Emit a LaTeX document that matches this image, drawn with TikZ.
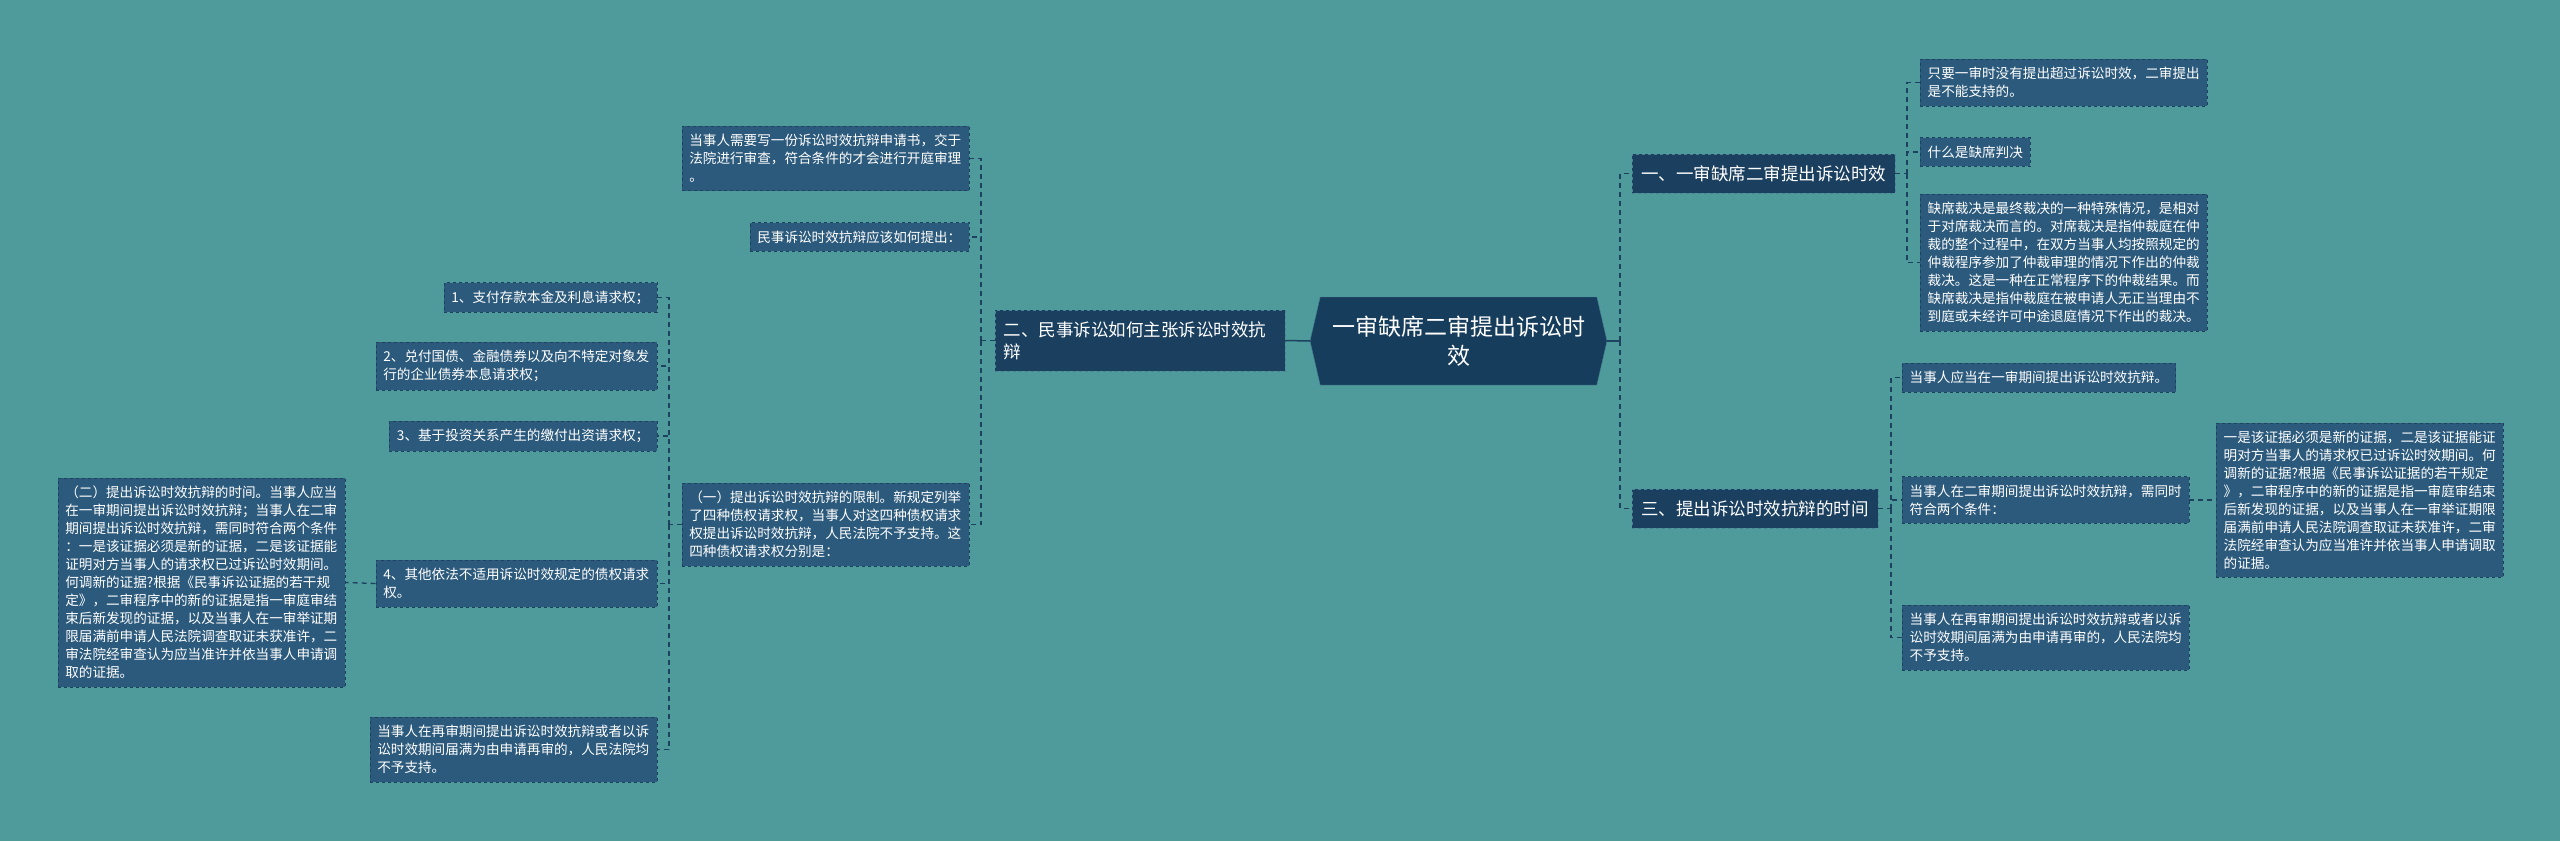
\documentclass[tikz,border=0pt]{standalone}
\usepackage{fontspec}
\setmainfont{Noto Sans CJK SC}
\usetikzlibrary{shapes.symbols}
\definecolor{bgteal}{HTML}{4F9B9B}
\definecolor{rootblue}{HTML}{173D5C}
\definecolor{mainblue}{HTML}{1A3F5F}
\definecolor{leafblue}{HTML}{2C5A7C}
\definecolor{edgeblue}{HTML}{1C4260}
\definecolor{rimblue}{HTML}{4A8296}
\tikzset{
  topic/.style={shape=signal, signal to=east and west, signal pointer angle=154,
    fill=rootblue, draw=rimblue, text=white, align=center,
    font=\fontsize{23pt}{29pt}\selectfont, minimum width=297pt, minimum height=88pt, inner sep=0pt},
  branch/.style={fill=mainblue, draw=rimblue, dashed, text=white, align=left,
    font=\fontsize{17.5pt}{22pt}\selectfont, inner xsep=9pt, inner ysep=11.5pt},
  leaf/.style={fill=leafblue, draw=edgeblue, dashed, text=white, align=left,
    font=\fontsize{13.6pt}{18pt}\selectfont, inner xsep=7.5pt, inner ysep=8pt},
  link/.style={draw=edgeblue, line width=1.3pt, dash pattern=on 5pt off 4pt},
  rootlink/.style={draw=edgeblue, line width=1.5pt},
}
\begin{document}
\begin{tikzpicture}[x=1pt, y=-1pt]
      \fill[bgteal] (0,0) rectangle (2560,841); % page
      \useasboundingbox (0,0) rectangle (2560,841);
      %
      \node[topic] (root) at (1458.5,341) {一审缺席二审提出诉讼时\\效}; % centre
      %
      \node[branch, anchor=west] (timely) at (1632,173.5) {一、一审缺席二审提出诉讼时效}; % right
      \node[branch, anchor=west] (period) at (1632,508.5) {三、提出诉讼时效抗辩的时间};
      \node[branch, anchor=east, text width=272pt] (claim) at (1285,340.5) {二、民事诉讼如何主张诉讼时效抗\\辩}; % left
      %
      \node[leaf, anchor=west] (nosupport) at (1920,82.5) {只要一审时没有提出超过诉讼时效，二审提出\\是不能支持的。}; % under timely
      \node[leaf, anchor=west] (whatis) at (1920,152) {什么是缺席判决};
      \node[leaf, anchor=west] (absent) at (1920,262.5) {缺席裁决是最终裁决的一种特殊情况，是相对\\于对席裁决而言的。对席裁决是指仲裁庭在仲\\裁的整个过程中，在双方当事人均按照规定的\\仲裁程序参加了仲裁审理的情况下作出的仲裁\\裁决。这是一种在正常程序下的仲裁结果。而\\缺席裁决是指仲裁庭在被申请人无正当理由不\\到庭或未经许可中途退庭情况下作出的裁决。};
      %%
      \node[leaf, anchor=west] (first) at (1902,377.5) {当事人应当在一审期间提出诉讼时效抗辩。}; % under period
      \node[leaf, anchor=west] (second) at (1902,500) {当事人在二审期间提出诉讼时效抗辩，需同时\\符合两个条件：};
      \node[leaf, anchor=west] (newproof) at (2216,500) {一是该证据必须是新的证据，二是该证据能证\\明对方当事人的请求权已过诉讼时效期间。何\\调新的证据?根据《民事诉讼证据的若干规定\\》，二审程序中的新的证据是指一审庭审结束\\后新发现的证据，以及当事人在一审举证期限\\届满前申请人民法院调查取证未获准许，二审\\法院经审查认为应当准许并依当事人申请调取\\的证据。};
      \node[leaf, anchor=west] (retrial) at (1902,637.5) {当事人在再审期间提出诉讼时效抗辩或者以诉\\讼时效期间届满为由申请再审的，人民法院均\\不予支持。};
      %%
      \node[leaf, anchor=east] (apply) at (969,158.5) {当事人需要写一份诉讼时效抗辩申请书，交于\\法院进行审查，符合条件的才会进行开庭审理\\。}; % under claim
      \node[leaf, anchor=east] (how) at (969,237) {民事诉讼时效抗辩应该如何提出：};
      \node[leaf, anchor=east] (limit) at (969,524.5) {（一）提出诉讼时效抗辩的限制。新规定列举\\了四种债权请求权，当事人对这四种债权请求\\权提出诉讼时效抗辩，人民法院不予支持。这\\四种债权请求权分别是：};
      %%
      \node[leaf, anchor=east] (deposit) at (657,297.5) {1、支付存款本金及利息请求权；}; % under limit
      \node[leaf, anchor=east] (bonds) at (657,366) {2、兑付国债、金融债券以及向不特定对象发\\行的企业债券本息请求权；};
      \node[leaf, anchor=east] (invest) at (657,436) {3、基于投资关系产生的缴付出资请求权；};
      \node[leaf, anchor=east] (others) at (657,583.5) {4、其他依法不适用诉讼时效规定的债权请求\\权。};
      \node[leaf, anchor=east] (rehear) at (657,749.5) {当事人在再审期间提出诉讼时效抗辩或者以诉\\讼时效期间届满为由申请再审的，人民法院均\\不予支持。};
      \node[leaf, anchor=east] (timing) at (345,582.5) {（二）提出诉讼时效抗辩的时间。当事人应当\\在一审期间提出诉讼时效抗辩；当事人在二审\\期间提出诉讼时效抗辩，需同时符合两个条件\\：一是该证据必须是新的证据，二是该证据能\\证明对方当事人的请求权已过诉讼时效期间。\\何调新的证据?根据《民事诉讼证据的若干规\\定》，二审程序中的新的证据是指一审庭审结\\束后新发现的证据，以及当事人在一审举证期\\限届满前申请人民法院调查取证未获准许，二\\审法院经审查认为应当准许并依当事人申请调\\取的证据。};
      %
      \coordinate (rtrunk) at (1620,341);     % trunks
      \coordinate (atrunk) at (1907,173.5);
      \coordinate (ptrunk) at (1891,508.5);
      \coordinate (ltrunk) at (981,340.5);
      \coordinate (ktrunk) at (669,524.5);
      %
      \draw[rootlink] (root.west) -- (claim.east);
      \draw[rootlink] (root.east) -- (rtrunk);
      \draw[link] (rtrunk) |- (timely.west);
      \draw[link] (rtrunk) |- (period.west);
      %%
      \draw[link] (timely.east) -- (atrunk);
      \draw[link] (atrunk) |- (nosupport.west);
      \draw[link] (atrunk) |- (whatis.west);
      \draw[link] (atrunk) |- (absent.west);
      %%
      \draw[link] (period.east) -- (ptrunk);
      \draw[link] (ptrunk) |- (first.west);
      \draw[link] (ptrunk) |- (second.west);
      \draw[link] (ptrunk) |- (retrial.west);
      \draw[link] (second.east) -- (newproof.west);
      %%
      \draw[link] (claim.west) -- (ltrunk);
      \draw[link] (ltrunk) |- (apply.east);
      \draw[link] (ltrunk) |- (how.east);
      \draw[link] (ltrunk) |- (limit.east);
      %%
      \draw[link] (limit.west) -- (ktrunk);
      \draw[link] (ktrunk) |- (deposit.east);
      \draw[link] (ktrunk) |- (bonds.east);
      \draw[link] (ktrunk) |- (invest.east);
      \draw[link] (ktrunk) |- (others.east);
      \draw[link] (ktrunk) |- (rehear.east);
      \draw[link] (others.west) -- (timing.east);
      %
    \end{tikzpicture}
\end{document}
